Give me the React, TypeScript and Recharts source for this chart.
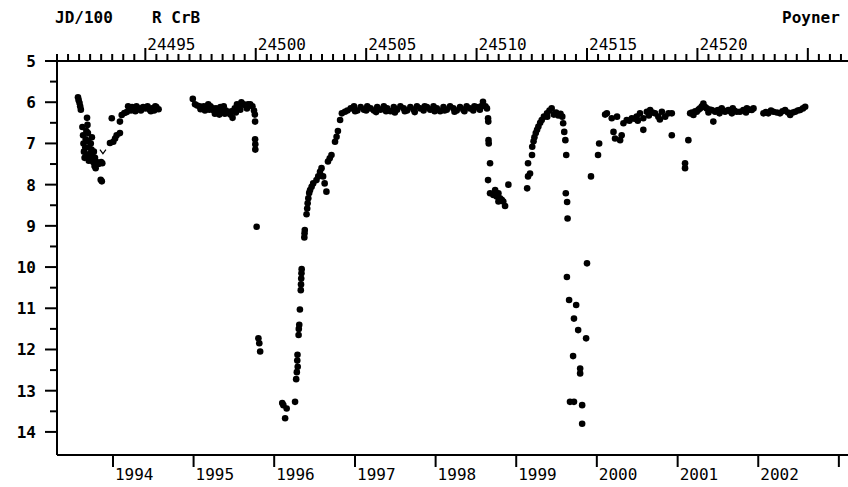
import { ScatterChart, Scatter, XAxis, YAxis } from "recharts"

// ── Layout ────────────────────────────────────────────────────────────────
const W = 860
const H = 487
const PLOT_LEFT = 57
const PLOT_TOP = 61
const PLOT_BOTTOM = 455
const FONT = "'DejaVu Sans Mono', 'Liberation Mono', monospace"
const INK = "#000"

// ── Data (JD/100, visual magnitude) ───────────────────────────────────────
const FADE_1993: [number, number][] = [
  [24491.95, 5.88], [24491.98, 5.95], [24492.02, 6.02], [24492.05, 6.1], [24492.08, 6.18],
  [24492.15, 6.6], [24492.18, 6.8], [24492.2, 7.0], [24492.22, 7.2], [24492.25, 7.35],
  [24492.3, 6.9], [24492.33, 6.7], [24492.36, 6.38], [24492.38, 6.55], [24492.4, 6.75],
  [24492.42, 6.95], [24492.45, 7.1], [24492.48, 7.25], [24492.5, 7.4], [24492.53, 7.0],
  [24492.56, 7.15], [24492.6, 7.3], [24492.64, 7.45], [24492.7, 7.55], [24492.75, 7.6],
  [24492.8, 7.45], [24492.88, 7.5], [24493.0, 7.45], [24493.05, 7.48], [24492.98, 7.88],
  [24493.03, 7.92], [24492.28, 7.1], [24492.35, 7.3], [24492.44, 7.42], [24492.58, 6.85],
  [24492.67, 7.2], [24492.72, 7.35],
  [24493.4, 6.99], [24493.55, 6.96], [24493.63, 6.88], [24493.7, 6.8], [24493.85, 6.75],
  [24493.48, 6.39], [24493.85, 6.47], [24493.93, 6.31], [24494.05, 6.26], [24494.16, 6.24],
  [24494.22, 6.1], [24494.3, 6.15], [24494.4, 6.12], [24494.5, 6.18], [24494.6, 6.1],
  [24494.7, 6.15], [24494.8, 6.2], [24494.9, 6.12], [24495.0, 6.15], [24495.1, 6.1],
  [24495.2, 6.18], [24495.3, 6.15], [24495.4, 6.2], [24495.5, 6.12], [24495.6, 6.17],
  [24494.35, 6.2], [24494.55, 6.22], [24495.25, 6.22], [24495.45, 6.1],
]

const LIMITS: [number, number][] = [[24493.08, 7.2]]

const FADE_1995: [number, number][] = [
  [24497.15, 5.92], [24497.25, 6.05], [24497.35, 6.08], [24497.45, 6.1], [24497.55, 6.12],
  [24497.65, 6.1], [24497.75, 6.15], [24497.85, 6.05], [24497.95, 6.1], [24498.05, 6.15],
  [24498.1, 6.2], [24498.2, 6.15], [24498.3, 6.25], [24498.35, 6.3], [24498.45, 6.2],
  [24498.55, 6.1], [24498.65, 6.2], [24498.75, 6.25], [24498.85, 6.3], [24498.95, 6.38],
  [24499.05, 6.15], [24499.15, 6.05], [24499.25, 6.1], [24499.35, 6.0], [24499.45, 6.05],
  [24499.55, 6.08], [24499.65, 6.05], [24499.75, 6.05], [24499.85, 6.1], [24499.92, 6.2],
  [24497.5, 6.17], [24497.7, 6.2], [24497.9, 6.18], [24498.15, 6.28], [24498.4, 6.12],
  [24498.6, 6.28], [24498.9, 6.22], [24499.1, 6.25], [24499.3, 6.18], [24499.6, 6.15],
  [24499.96, 6.3], [24499.97, 6.47], [24499.97, 6.9], [24499.98, 7.02], [24499.98, 7.15],
  [24500.04, 9.02], [24500.12, 11.73], [24500.16, 11.85], [24500.2, 12.05],
]

const FADE_1996: [number, number][] = [
  [24501.25, 13.35], [24501.33, 13.67], [24501.4, 13.43], [24501.2, 13.3], [24501.78, 13.27],
  [24501.83, 12.72], [24501.86, 12.55], [24501.9, 12.42], [24501.88, 12.27], [24501.89, 12.13],
  [24501.94, 11.65], [24501.95, 11.5], [24501.97, 11.4], [24502.0, 11.03],
  [24502.04, 10.56], [24502.05, 10.42], [24502.06, 10.28], [24502.07, 10.15], [24502.08, 10.05],
  [24502.2, 9.28], [24502.21, 9.18], [24502.22, 9.1],
  [24502.3, 8.72], [24502.33, 8.58], [24502.35, 8.45], [24502.38, 8.33], [24502.42, 8.2],
  [24502.46, 8.13], [24502.53, 8.05], [24502.6, 7.97], [24502.75, 7.89], [24502.83, 7.8],
  [24502.91, 7.69], [24502.98, 7.6], [24503.05, 7.8], [24503.12, 7.97], [24503.2, 8.17],
  [24503.27, 7.44], [24503.35, 7.36], [24503.43, 7.28],
  [24503.59, 6.96], [24503.66, 6.84], [24503.72, 6.7],
  [24503.82, 6.43], [24503.9, 6.27], [24504.04, 6.23], [24504.15, 6.2],
  [24504.3, 6.15], [24504.45, 6.1], [24504.6, 6.2], [24504.75, 6.12], [24504.9, 6.18],
  [24505.05, 6.1], [24505.2, 6.15], [24505.35, 6.2], [24505.5, 6.12], [24505.65, 6.18],
  [24505.8, 6.1], [24505.95, 6.15], [24506.1, 6.22], [24506.25, 6.12], [24506.4, 6.18],
  [24506.55, 6.1], [24506.7, 6.15], [24506.85, 6.2], [24507.0, 6.12], [24507.15, 6.18],
  [24507.3, 6.1], [24507.45, 6.15], [24507.6, 6.2], [24507.75, 6.12], [24507.9, 6.18],
  [24508.05, 6.1], [24508.2, 6.15], [24508.35, 6.22], [24508.5, 6.12], [24508.65, 6.18],
  [24508.8, 6.1], [24508.95, 6.15], [24509.1, 6.2], [24509.25, 6.12], [24509.4, 6.18],
  [24509.55, 6.1], [24509.7, 6.15], [24509.85, 6.2], [24510.0, 6.12], [24510.15, 6.18],
  [24504.5, 6.22], [24505.0, 6.2], [24505.45, 6.24], [24505.9, 6.22], [24506.3, 6.25],
  [24506.75, 6.22], [24507.2, 6.24], [24507.65, 6.1], [24508.1, 6.22], [24508.55, 6.2],
  [24509.0, 6.23], [24509.45, 6.22], [24509.9, 6.1], [24510.2, 6.1],
  [24510.29, 5.99], [24510.4, 6.1],
]

const FADE_1999: [number, number][] = [
  [24510.47, 6.15], [24510.52, 6.39], [24510.53, 6.47], [24510.54, 6.92], [24510.55, 7.0],
  [24510.61, 7.48], [24510.52, 7.89],
  [24510.61, 8.21], [24510.76, 8.25], [24510.84, 8.13], [24510.91, 8.29], [24510.99, 8.21],
  [24511.06, 8.33], [24511.14, 8.37], [24511.21, 8.41], [24511.29, 8.52], [24510.99, 8.41],
  [24511.44, 8.0],
  [24512.29, 8.09], [24512.33, 7.8], [24512.42, 7.73], [24512.33, 7.48], [24512.51, 7.28],
  [24512.52, 7.08], [24512.58, 6.95], [24512.62, 6.85], [24512.68, 6.75], [24512.74, 6.67],
  [24512.8, 6.59], [24512.88, 6.5], [24512.95, 6.43], [24513.05, 6.35], [24513.19, 6.27],
  [24513.3, 6.2], [24513.4, 6.15], [24513.2, 6.35], [24513.5, 6.3], [24513.6, 6.25],
  [24513.7, 6.32], [24513.8, 6.28], [24513.88, 6.35],
  [24513.92, 6.51], [24513.97, 6.72], [24514.02, 6.92], [24514.06, 7.28],
  [24514.04, 8.21], [24514.1, 8.42], [24514.12, 8.82],
  [24514.09, 10.24], [24514.19, 10.8], [24514.51, 10.92], [24514.41, 11.25], [24514.6, 11.53],
  [24514.96, 11.73], [24514.37, 12.16], [24514.69, 12.46], [24514.69, 12.58],
  [24514.23, 13.27], [24514.41, 13.27], [24514.78, 13.35], [24514.78, 13.8],
  [24515.0, 9.91], [24515.18, 7.8], [24515.5, 7.28], [24515.55, 7.0],
]

const FADE_2000: [number, number][] = [
  [24515.82, 6.3], [24515.9, 6.27], [24516.12, 6.39], [24516.2, 6.72], [24516.27, 6.88],
  [24516.36, 6.35], [24516.5, 6.92], [24516.57, 6.8], [24516.65, 6.51], [24516.8, 6.43],
  [24516.92, 6.45], [24517.03, 6.39], [24517.15, 6.4], [24517.25, 6.35], [24517.4, 6.27],
  [24517.55, 6.39], [24517.55, 6.67], [24517.71, 6.23], [24517.86, 6.19], [24517.97, 6.25],
  [24518.08, 6.27], [24518.23, 6.35], [24518.39, 6.23], [24518.54, 6.35], [24518.69, 6.27],
  [24518.84, 6.27], [24518.84, 6.8], [24517.3, 6.45], [24517.8, 6.32], [24518.3, 6.42],
  [24519.44, 7.48], [24519.44, 7.6], [24519.59, 6.92],
  [24519.67, 6.27], [24519.75, 6.25], [24519.82, 6.31], [24519.9, 6.22], [24519.97, 6.23],
  [24520.05, 6.18], [24520.12, 6.15], [24520.2, 6.1], [24520.27, 6.03], [24520.35, 6.12],
  [24520.42, 6.15], [24520.55, 6.18], [24520.65, 6.19], [24520.72, 6.47], [24520.8, 6.23],
  [24520.88, 6.2], [24520.95, 6.19], [24521.1, 6.15], [24521.18, 6.2], [24521.25, 6.23],
  [24521.4, 6.19], [24521.48, 6.22], [24521.56, 6.27], [24521.67, 6.2], [24521.78, 6.23],
  [24521.93, 6.23], [24522.08, 6.19], [24522.24, 6.15], [24522.35, 6.18], [24522.46, 6.19],
  [24522.54, 6.15], [24520.5, 6.25], [24521.0, 6.27], [24521.6, 6.15], [24522.2, 6.25],
  [24522.99, 6.27], [24523.1, 6.24], [24523.21, 6.27], [24523.33, 6.2], [24523.44, 6.23],
  [24523.6, 6.25], [24523.74, 6.27], [24523.85, 6.22], [24523.97, 6.19], [24524.1, 6.25],
  [24524.2, 6.31], [24524.32, 6.25], [24524.43, 6.23], [24524.55, 6.2], [24524.65, 6.19],
  [24524.78, 6.15], [24524.88, 6.11],
]

// ── Axis ticks ────────────────────────────────────────────────────────────
const JD_TICKS = Array.from({ length: 73 }, (_, i) => 24491 + i * 0.5)
const JD_LABELS = [24495, 24500, 24505, 24510, 24515, 24520]
const YEARS = ["1994", "1995", "1996", "1997", "1998", "1999", "2000", "2001", "2002", ""]
const YEAR_JD = [
  24493.535, 24497.185, 24500.835, 24504.495, 24508.145,
  24511.795, 24515.445, 24519.105, 24522.755, 24526.405,
]
const MAG_TICKS = Array.from({ length: 19 }, (_, i) => 5 + i * 0.5)

const toPoints = (rows: [number, number][]) => rows.map(([jd, mag]) => ({ jd, mag }))
const OBS = [FADE_1993, FADE_1995, FADE_1996, FADE_1999, FADE_2000].flatMap(toPoints)

// ── Tick renderers ────────────────────────────────────────────────────────
function JdTick({ x, payload }: any) {
  const v = payload.value
  const major = Math.abs(v % 5) < 1e-6
  return (
    <g>
      <line x1={x} x2={x} y1={PLOT_TOP} y2={PLOT_TOP - (major ? 13 : 7)} stroke={INK} strokeWidth={2} />
      {JD_LABELS.includes(v) && (
        <text x={x + 2} y={50} fontFamily={FONT} fontSize={16} fill={INK}>
          {v}
        </text>
      )}
    </g>
  )
}

function YearTick({ x, payload, index }: any) {
  return (
    <g>
      <line x1={x} x2={x} y1={PLOT_BOTTOM} y2={PLOT_BOTTOM + 12} stroke={INK} strokeWidth={2} />
      <text x={x + 2} y={480} fontFamily={FONT} fontSize={16} fill={INK}>
        {YEARS[YEAR_JD.indexOf(payload.value)] ?? YEARS[index]}
      </text>
    </g>
  )
}

function MagTick({ y, payload }: any) {
  const v = payload.value
  const major = Number.isInteger(v)
  return (
    <g>
      <line x1={PLOT_LEFT} x2={PLOT_LEFT - (major ? 12 : 7)} y1={y} y2={y} stroke={INK} strokeWidth={2} />
      {major && (
        <text x={36} y={y + 6} textAnchor="end" fontFamily={FONT} fontSize={16} fontWeight="bold" fill={INK}>
          {v}
        </text>
      )}
    </g>
  )
}

const Dot = ({ cx, cy }: any) => <circle cx={cx} cy={cy} r={3.3} fill={INK} />
const Vee = ({ cx, cy }: any) => (
  <path d={`M${cx - 3},${cy - 2} L${cx},${cy + 2} L${cx + 3},${cy - 2}`} stroke={INK} fill="none" strokeWidth={1.2} />
)

export default function App() {
  return (
    <div
      style={{
        position: "fixed",
        left: 0,
        top: 0,
        width: 848,
        height: H,
        overflow: "hidden",
        background: "#fff",
      }}
    >
      <ScatterChart width={W} height={H} margin={{ top: 0, right: 8, bottom: 0, left: 0 }}>
        <XAxis
          xAxisId="jd"
          orientation="top"
          type="number"
          dataKey="jd"
          domain={[24491, 24527]}
          ticks={JD_TICKS}
          interval={0}
          height={PLOT_TOP}
          tickLine={false}
          tick={<JdTick />}
          axisLine={{ stroke: INK, strokeWidth: 2 }}
          allowDataOverflow
        />
        <XAxis
          xAxisId="yr"
          orientation="bottom"
          type="number"
          dataKey="jd"
          domain={[24491, 24527]}
          ticks={YEAR_JD}
          interval={0}
          height={H - PLOT_BOTTOM}
          tickLine={false}
          tick={<YearTick />}
          axisLine={{ stroke: INK, strokeWidth: 2 }}
          allowDataOverflow
        />
        <YAxis
          type="number"
          dataKey="mag"
          domain={[5, 14.56]}
          reversed
          ticks={MAG_TICKS}
          interval={0}
          width={PLOT_LEFT}
          tickLine={false}
          tick={<MagTick />}
          axisLine={{ stroke: INK, strokeWidth: 2 }}
          allowDataOverflow
        />
        <Scatter xAxisId="jd" data={OBS} shape={<Dot />} isAnimationActive={false} />
        <Scatter xAxisId="jd" data={toPoints(LIMITS)} shape={<Vee />} isAnimationActive={false} />
      </ScatterChart>
      <svg
        width={848}
        height={30}
        style={{ position: "absolute", left: 0, top: 0, pointerEvents: "none" }}
      >
        <g fontFamily={FONT} fontSize={16} fontWeight="bold" fill={INK}>
          <text x={55} y={23}>JD/100</text>
          <text x={152} y={23}>R CrB</text>
          <text x={782} y={23}>Poyner</text>
        </g>
      </svg>
    </div>
  )
}
